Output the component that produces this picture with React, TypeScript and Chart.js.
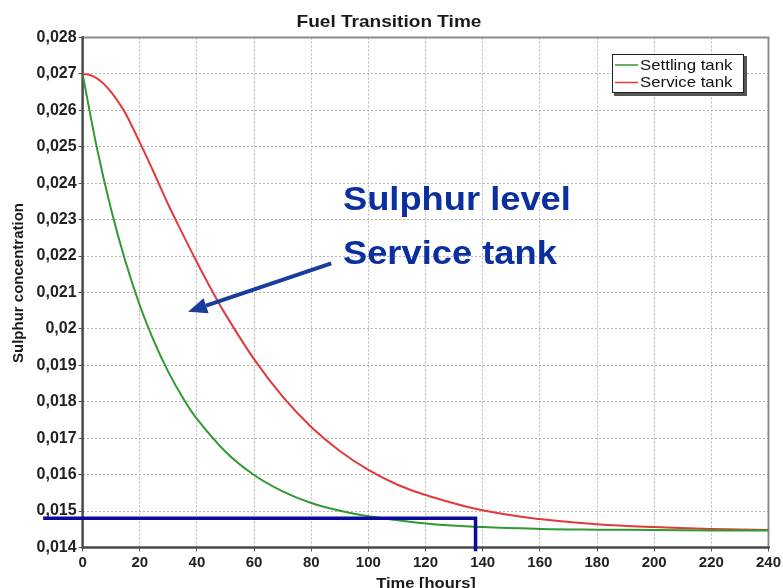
import React, { useEffect, useRef } from 'react';
import { Chart, registerables } from 'chart.js';
Chart.register(...registerables);

// ---- data ----
const settlingTime = [0, 5, 10, 15, 20, 25, 30, 35, 40, 50, 60, 70, 80, 90, 100, 120, 140, 160, 180, 200, 220, 240];
const settlingLevel = [0.027, 0.02497, 0.02327, 0.02185, 0.02065, 0.01966, 0.01882, 0.01812, 0.01753, 0.01663, 0.01599, 0.01554, 0.01522, 0.01501, 0.01486, 0.01466, 0.01456, 0.01451, 0.01449, 0.01448, 0.01447, 0.01447];
const serviceTime = [0, 2.5, 5, 7.5, 10, 12.5, 15, 20, 25, 30, 35, 40, 45, 50, 60, 70, 80, 90, 100, 110, 120, 140, 160, 180, 200, 220, 240];
const serviceLevel = [0.027, 0.02697, 0.02688, 0.02672, 0.0265, 0.02623, 0.02592, 0.02512, 0.02428, 0.02341, 0.02261, 0.02183, 0.02109, 0.0204, 0.01917, 0.01814, 0.01731, 0.01665, 0.01613, 0.01573, 0.01544, 0.01502, 0.01478, 0.01464, 0.01456, 0.01451, 0.01448];
const seriesNames = ['Settling tank', 'Service tank'];

const xMin = 0, xMax = 240, xStep = 20;
const yMin = 0.014, yMax = 0.028, yStep = 0.001;

// annotation (data units)
const markerTime = 137.5;
const markerLevel = 0.0148;
const markerLineStartTime = -13.8;
const markerLineBottomLevel = 0.0139;
const arrowTail = [87, 0.0218];
const arrowTip = [36.9, 0.02047];
const noteLines = ['Sulphur level', 'Service tank'];
const noteTime = 91.1;
const noteLevels = [0.02326, 0.02178];

const chartTitle = 'Fuel Transition Time';
const xTitle = 'Time [hours]';
const yTitle = 'Sulphur concentration';

const GREEN = '#2f9a30';
const RED = '#e23a3a';
const NAVY = '#0a0a9c';
const NOTE = '#0b2f9e';

function drawText(ctx: CanvasRenderingContext2D, text: string, x: number, y: number, font: string, color: string,
  align: CanvasTextAlign, baseline: CanvasTextBaseline, sx = 1, rot = 0) {
  ctx.save();
  ctx.translate(x, y);
  if (rot) ctx.rotate(rot);
  ctx.scale(sx, 1);
  ctx.font = font;
  ctx.fillStyle = color;
  ctx.textAlign = align;
  ctx.textBaseline = baseline;
  ctx.fillText(text, 0, 0);
  ctx.restore();
}

const FONT = '"Liberation Sans", Arial, sans-serif';

const decor = {
  id: 'decor',
  beforeDatasetsDraw(chart: any) {
    const { ctx, chartArea: ca } = chart;
    ctx.save();
    ctx.lineCap = 'square';
    ctx.strokeStyle = '#8c8c8c';
    ctx.lineWidth = 2;
    ctx.beginPath();
    ctx.moveTo(ca.left, ca.top);
    ctx.lineTo(ca.right, ca.top);
    ctx.lineTo(ca.right, ca.bottom);
    ctx.stroke();
    ctx.strokeStyle = '#4a4a4a';
    ctx.lineWidth = 2.5;
    ctx.beginPath();
    ctx.moveTo(ca.left, ca.top);
    ctx.lineTo(ca.left, ca.bottom);
    ctx.lineTo(ca.right, ca.bottom);
    ctx.stroke();
    ctx.restore();
  },
  afterDatasetsDraw(chart: any) {
    const { ctx } = chart;
    const xs = chart.scales.x, ys = chart.scales.y;
    ctx.save();
    // marker lines
    const mx = xs.getPixelForValue(markerTime);
    const my = ys.getPixelForValue(markerLevel);
    ctx.strokeStyle = NAVY;
    ctx.lineWidth = 3.5;
    ctx.lineCap = 'butt';
    ctx.lineJoin = 'miter';
    ctx.beginPath();
    ctx.moveTo(xs.getPixelForValue(markerLineStartTime), my);
    ctx.lineTo(mx, my);
    ctx.lineTo(mx, ys.getPixelForValue(markerLineBottomLevel));
    ctx.stroke();

    // arrow
    const tx = xs.getPixelForValue(arrowTail[0]), ty = ys.getPixelForValue(arrowTail[1]);
    const hx = xs.getPixelForValue(arrowTip[0]), hy = ys.getPixelForValue(arrowTip[1]);
    const ang = Math.atan2(hy - ty, hx - tx);
    const headLen = 19, headW = 8;
    const bx = hx - Math.cos(ang) * headLen, by = hy - Math.sin(ang) * headLen;
    ctx.strokeStyle = '#1a3d9c';
    ctx.fillStyle = '#1a3d9c';
    ctx.lineWidth = 4;
    ctx.beginPath();
    ctx.moveTo(tx, ty);
    ctx.lineTo(bx, by);
    ctx.stroke();
    ctx.beginPath();
    ctx.moveTo(hx, hy);
    ctx.lineTo(bx + Math.sin(ang) * headW, by - Math.cos(ang) * headW);
    ctx.lineTo(bx - Math.sin(ang) * headW, by + Math.cos(ang) * headW);
    ctx.closePath();
    ctx.fill();

    // note text
    const nx = xs.getPixelForValue(noteTime);
    noteLines.forEach((t, i) => {
      drawText(ctx, t, nx, ys.getPixelForValue(noteLevels[i]), `bold 33px ${FONT}`, NOTE, 'left', 'alphabetic', 1.1);
    });
    ctx.restore();
  },
  afterDraw(chart: any) {
    const { ctx } = chart;
    ctx.save();
    // title
    drawText(ctx, chartTitle, 389, 27, `bold 17px ${FONT}`, '#1a1a1a', 'center', 'alphabetic', 1.12);
    // axis titles
    drawText(ctx, xTitle, 426, 588, `bold 15px ${FONT}`, '#1a1a1a', 'center', 'alphabetic', 1.1);
    drawText(ctx, yTitle, 19, 283, `bold 15px ${FONT}`, '#1a1a1a', 'center', 'middle', 1.0, -Math.PI / 2);

    // legend
    const lx = 612, ly = 54, lw = 132, lh = 39;
    ctx.fillStyle = '#555';
    ctx.fillRect(lx + 2, ly + 2, lw + 1, lh + 1);
    ctx.fillStyle = '#fff';
    ctx.fillRect(lx, ly, lw, lh);
    ctx.strokeStyle = '#222';
    ctx.lineWidth = 1;
    ctx.strokeRect(lx + 0.5, ly + 0.5, lw - 1, lh - 1);
    const colors = [GREEN, RED];
    const rows = [65, 82.5];
    seriesNames.forEach((n, i) => {
      ctx.strokeStyle = colors[i];
      ctx.lineWidth = 1.5;
      ctx.beginPath();
      ctx.moveTo(615, rows[i]);
      ctx.lineTo(638, rows[i]);
      ctx.stroke();
      drawText(ctx, n, 640, rows[i] + 0.5, `15px ${FONT}`, '#111', 'left', 'middle', 1.12);
    });
    ctx.restore();
  },
};

function fmt(v: number) {
  return parseFloat(v.toFixed(4)).toString().replace('.', ',');
}

export default function App() {
  const ref = useRef<HTMLCanvasElement>(null);
  useEffect(() => {
    const canvas = ref.current!;
    const chart = new Chart(canvas, {
      type: 'line',
      data: {
        datasets: [
          {
            label: seriesNames[0],
            data: settlingTime.map((t, i) => ({ x: t, y: settlingLevel[i] })),
            borderColor: GREEN,
            borderWidth: 2,
            pointRadius: 0,
            tension: 0.4,
            fill: false,
          },
          {
            label: seriesNames[1],
            data: serviceTime.map((t, i) => ({ x: t, y: serviceLevel[i] })),
            borderColor: RED,
            borderWidth: 2,
            pointRadius: 0,
            tension: 0.4,
            fill: false,
          },
        ],
      },
      options: {
        animation: false,
        responsive: false,
        devicePixelRatio: 1,
        layout: { padding: { left: 0, right: 14, top: 37.5, bottom: 0 } },
        plugins: { legend: { display: false }, title: { display: false }, tooltip: { enabled: false } },
        scales: {
          x: {
            type: 'linear',
            min: xMin,
            max: xMax,
            afterFit: (s: any) => { s.height = 40.5; },
            ticks: {
              stepSize: xStep,
              color: '#222',
              font: { family: FONT, size: 15, weight: 'bold' },
              padding: 2,
              maxRotation: 0,
              autoSkip: false,
            },
            grid: { color: '#b4b4b4', lineWidth: 1, tickLength: 4, tickColor: '#555' },
            border: { display: false, dash: [2, 2] },
          },
          y: {
            type: 'linear',
            min: yMin,
            max: yMax,
            afterFit: (s: any) => { s.width = 82.6; },
            ticks: {
              stepSize: yStep,
              color: '#222',
              font: { family: FONT, size: 16, weight: 'bold' },
              padding: 2,
              autoSkip: false,
              callback: (v: any) => fmt(Number(v)),
            },
            grid: { color: '#b4b4b4', lineWidth: 1, tickLength: 4, tickColor: '#555' },
            border: { display: false, dash: [2, 2] },
          },
        },
      } as any,
      plugins: [decor],
    });
    return () => chart.destroy();
  }, []);
  return (
    <div style={{ position: 'fixed', left: 0, top: 0, width: 783, height: 588, background: '#fff' }}>
      <canvas ref={ref} width={783} height={588} style={{ display: 'block' }} />
    </div>
  );
}
